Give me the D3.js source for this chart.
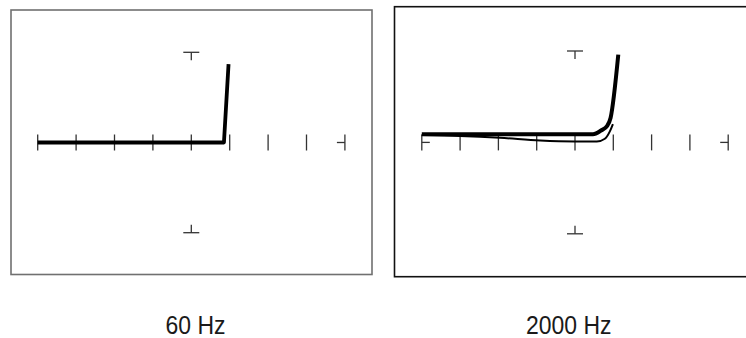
<!DOCTYPE html>
<html>
<head>
<meta charset="utf-8">
<script src="https://cdn.jsdelivr.net/npm/d3@7"></script>
<style>
body { margin: 0; background: #fff; }
svg { display: block; }
</style>
</head>
<body>
<svg id="chart" width="746" height="338"></svg>
<script>
// frequency labels under each screen
var labels = ["60 Hz", "2000 Hz"];

// graticule ticks in divisions along the horizontal axis
var xTicks = [-4, -3, -2, -1, 0, 1, 2, 3, 4];
// vertical markers (top T and bottom T)
var yMarks = [1, -1];

// traces, [x in divisions, y as fraction of the vertical marker]
var trace60 = [[-4, 0], [0.85, 0], [0.97, 0.87]];
var trace2000Thick = [[-4, 0.09], [-2, 0.09], [0, 0.09], [0.47, 0.09], [0.68, 0.13],
                      [0.84, 0.18], [0.93, 0.27], [1.13, 0.96]];
var trace2000Thin = [[-4, 0.08], [-3, 0.07], [-1.96, 0.05], [-0.91, 0.02], [0, 0.01],
                     [0.57, 0.01], [0.78, 0.04], [0.91, 0.12], [0.99, 0.2]];

var svg = d3.select("#chart");

// screen layout for the two panels
var panels = [
	{ box: [11, 10, 361, 264.5], border: "#707070", cx: 191.3, dx: 38.4, top: 52.3, bottom: 232.7,
	  traces: [{ data: trace60, width: 3.8, curve: d3.curveLinear }], label: labels[0], lx: 195.5 },
	{ box: [394.5, 6.7, 353, 270], border: "#111", cx: 575, dx: 38.3, top: 51, bottom: 233.8,
	  traces: [{ data: trace2000Thin, width: 2, curve: d3.curveMonotoneX },
	           { data: trace2000Thick, width: 4, curve: d3.curveMonotoneX }], label: labels[1], lx: 568.8 }
];

panels.forEach(function(p) {
	var g = svg.append("g");

	var x = d3.scaleLinear().domain([-4, 4]).range([p.cx - 4*p.dx, p.cx + 4*p.dx]);
	var y = d3.scaleLinear().domain([-1, 1]).range([p.bottom, p.top]);
	var y0 = y(0);

	// screen border
	g.append("rect")
		.attr("x", p.box[0]).attr("y", p.box[1])
		.attr("width", p.box[2]).attr("height", p.box[3])
		.attr("fill", "none")
		.attr("stroke", p.border)
		.attr("stroke-width", 1.6);

	// horizontal axis ticks
	g.selectAll(".tick")
		.data(xTicks)
	.enter().append("line")
		.attr("x1", function(d) { return x(d); })
		.attr("x2", function(d) { return x(d); })
		.attr("y1", y0 - 8)
		.attr("y2", y0 + 8)
		.attr("stroke", "#333")
		.attr("stroke-width", 1.3);

	// short stubs at both ends of the axis
	g.append("line")
		.attr("x1", x(-4)).attr("x2", x(-4) + 8)
		.attr("y1", y0).attr("y2", y0)
		.attr("stroke", "#333").attr("stroke-width", 1.3);
	g.append("line")
		.attr("x1", x(4) - 8).attr("x2", x(4))
		.attr("y1", y0).attr("y2", y0)
		.attr("stroke", "#333").attr("stroke-width", 1.3);

	// top and bottom markers
	yMarks.forEach(function(m) {
		g.append("line")
			.attr("x1", x(0) - 8).attr("x2", x(0) + 8)
			.attr("y1", y(m)).attr("y2", y(m))
			.attr("stroke", "#333").attr("stroke-width", 1.3);
		g.append("line")
			.attr("x1", x(0)).attr("x2", x(0))
			.attr("y1", y(m)).attr("y2", y(m) + (m > 0 ? 8 : -8))
			.attr("stroke", "#333").attr("stroke-width", 1.3);
	});

	// traces
	p.traces.forEach(function(t) {
		var line = d3.line()
			.x(function(d) { return x(d[0]); })
			.y(function(d) { return y(d[1]); })
			.curve(t.curve);
		g.append("path")
			.attr("d", line(t.data))
			.attr("fill", "none")
			.attr("stroke", "#000")
			.attr("stroke-width", t.width)
			.attr("stroke-linejoin", "round");
	});

	// frequency label, squeezed horizontally to look condensed
	svg.append("text")
		.attr("transform", "translate(" + p.lx + ",334) scale(0.9,1)")
		.attr("text-anchor", "middle")
		.style("font-family", "'Liberation Sans', Arial, sans-serif")
		.style("font-size", "25.5px")
		.attr("fill", "#1a1a1a")
		.text(p.label);
});
</script>
</body>
</html>
